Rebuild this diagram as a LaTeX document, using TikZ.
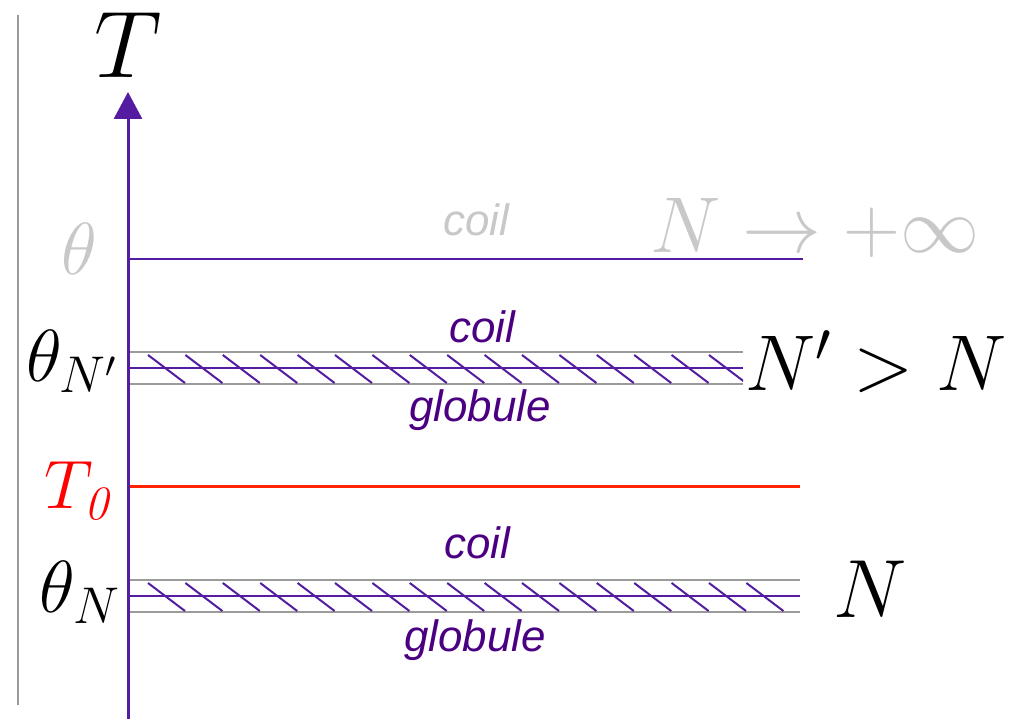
\RequirePackage{fix-cm}
\documentclass[tikz,border=0pt]{standalone}
\usepackage{amsmath}
\usepackage{fontspec}
\setsansfont{Liberation Sans}
\usetikzlibrary{arrows.meta, positioning}

\definecolor{axispurple}{RGB}{84,28,160}
\definecolor{phaseindigo}{RGB}{75,0,130}
\definecolor{bandgray}{RGB}{155,155,155}
\definecolor{faintgray}{RGB}{200,200,200}
\definecolor{threshred}{RGB}{255,35,0}

% band of coexistence: #1 = centre line, #2 = right end
\newcommand{\hatchband}[2]{%
    \draw[bandline] (130,#1-16) -- (#2,#1-16);
    \draw[bandline] (130,#1+16.5) -- (#2,#1+16.5);
    \begin{scope}
        \clip (130,#1-17) rectangle (#2,#1+17);
        \foreach \i in {0,...,16}
            \draw[thinpurple] (148+37.4*\i,#1-13) -- ++(37,28);
    \end{scope}
    \draw[thinpurple] (130,#1) -- (#2,#1);
}

\begin{document}
\begin{tikzpicture}[
    x=0.02cm, y=-0.02cm,
    thinpurple/.style={draw=axispurple, line width=0.04cm},
    bandline/.style={draw=bandgray, line width=0.04cm},
    phase/.style={font=\fontsize{25}{30}\selectfont\sffamily\itshape, text=phaseindigo, inner sep=0pt},
    mathlbl/.style={inner sep=0pt},
    arrow/.style={-{Triangle[length=0.54cm, width=0.56cm]}, draw=axispurple, line width=0.06cm}
]
    \useasboundingbox (0,0) rectangle (1019,719);

    % Frame line and temperature axis
    \draw[bandgray, line width=0.03cm] (18,15) -- (18,705);
    \coordinate (origin) at (128,719);
    \coordinate (axtop) at (128,92);
    \draw[arrow] (origin) -- (axtop);
    \node[mathlbl, font=\fontsize{54}{60}\selectfont] (tlabel) at (128,45) {$T$};

    % Infinite chain
    \draw[thinpurple] (130,259) -- (803,259);
    \node[mathlbl, font=\fontsize{42}{50}\selectfont, text=faintgray] (theta) at (79,249) {$\theta$};
    \node[phase, text=faintgray] (coilinf) at (476,220) {coil};
    \node[mathlbl, font=\fontsize{45}{50}\selectfont, text=faintgray] (ninf) at (815,228) {$N\rightarrow+\infty$};

    % Longer chain N'
    \hatchband{368}{743}
    \node[mathlbl, font=\fontsize{42}{50}\selectfont] (thetanp) at (72,361) {$\theta_{N'}$};
    \node[phase] (coilnp) at (482,327) {coil};
    \node[phase] (globnp) at (480,410) {globule};
    \node[mathlbl, font=\fontsize{45}{50}\selectfont] (nprime) at (876,362) {$N'>N$};

    % Threshold
    \draw[draw=threshred, line width=0.06cm] (130,487) -- (800,487);
    \node[mathlbl, font=\fontsize{39}{45}\selectfont, text=red] (tzero) at (77,491) {$T_{\mathit{0}}$};

    % Chain N
    \hatchband{596}{800}
    \node[mathlbl, font=\fontsize{42}{50}\selectfont] (thetan) at (80,592) {$\theta_N$};
    \node[phase] (coiln) at (477,543) {coil};
    \node[phase] (globn) at (475,640) {globule};
    \node[mathlbl, font=\fontsize{47}{52}\selectfont] (nlabel) at (870,589) {$N$};
\end{tikzpicture}
\end{document}
